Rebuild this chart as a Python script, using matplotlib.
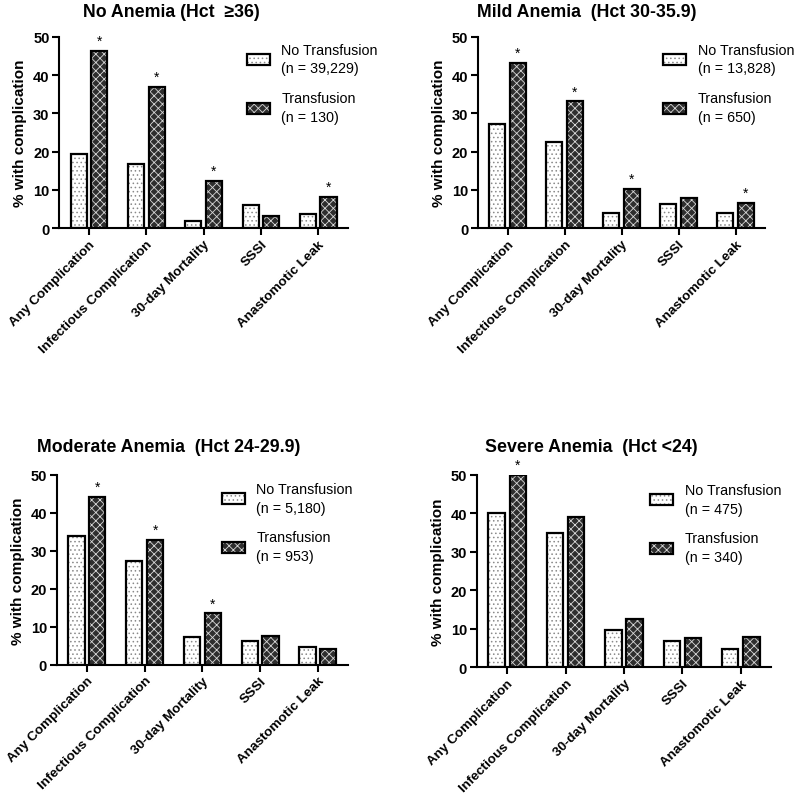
import matplotlib
matplotlib.use("Agg")
import matplotlib.pyplot as plt
from matplotlib.patches import Patch
import numpy as np

plt.rcParams["font.family"] = ["Liberation Sans", "DejaVu Sans"]
plt.rcParams["hatch.linewidth"] = 0.6

categories = ["Any Complication", "Infectious Complication", "30-day Mortality",
              "SSSI", "Anastomotic Leak"]

titles = ["No Anemia (Hct  \u226536)", "Mild Anemia  (Hct 30-35.9)",
          "Moderate Anemia  (Hct 24-29.9)", "Severe Anemia  (Hct <24)"]

n_no_tx = ["39,229", "13,828", "5,180", "475"]
n_tx = ["130", "650", "953", "340"]

no_tx = [
    [19.3, 16.7, 1.9, 6.0, 3.6],
    [27.2, 22.4, 4.0, 6.3, 4.0],
    [33.8, 27.3, 7.2, 6.2, 4.6],
    [40.2, 34.9, 9.7, 6.9, 4.6],
]
tx = [
    [46.2, 37.0, 12.3, 3.1, 8.2],
    [43.2, 33.1, 10.2, 8.0, 6.6],
    [44.3, 32.9, 13.5, 7.6, 4.1],
    [50.1, 39.1, 12.4, 7.6, 7.9],
]
# significance stars on the transfusion bar
stars = [
    [1, 1, 1, 0, 1],
    [1, 1, 1, 0, 1],
    [1, 1, 1, 0, 0],
    [1, 0, 0, 0, 0],
]

# [left, bottom, width, height] in figure fractions
positions = [
    [0.074, 0.715, 0.361, 0.238],
    [0.5975, 0.715, 0.359, 0.238],
    [0.071, 0.172, 0.364, 0.236],
    [0.596, 0.169, 0.368, 0.239],
]
title_pos = [(0.104, 0.985), (0.596, 0.985), (0.046, 0.444), (0.606, 0.444)]
legend_anchor = [(0.65, 0.97), (0.645, 0.97), (0.567, 0.965), (0.59, 0.96)]

fig = plt.figure(figsize=(8, 8.04), dpi=100)

w = 0.28
off = 0.18
nt_style = dict(facecolor="white", edgecolor="#8a8a8a", hatch="....", linewidth=0)
t_style = dict(facecolor="#2e2e2e", edgecolor="#d8d8d8", hatch="xxxx", linewidth=0)
outline = dict(fill=False, edgecolor="black", linewidth=1.6)

x = np.arange(len(categories))
for i in range(4):
    ax = fig.add_axes(positions[i])
    ax.bar(x - off, no_tx[i], w, **nt_style)
    ax.bar(x - off, no_tx[i], w, **outline)
    ax.bar(x + off, tx[i], w, **t_style)
    ax.bar(x + off, tx[i], w, **outline)
    for j in range(len(categories)):
        if stars[i][j]:
            ax.text(x[j] + off, tx[i][j] + 0.8, "*", ha="center", va="bottom",
                    fontsize=10)

    ax.set_xlim(-0.52, 4.52)
    ax.set_ylim(0, 50)
    ax.set_yticks([0, 10, 20, 30, 40, 50])
    ax.set_xticks(x)
    ax.set_xticklabels(categories, rotation=45, ha="right", rotation_mode="anchor",
                       fontsize=9.7, fontweight="bold")
    for lab in ax.get_yticklabels():
        lab.set_fontweight("bold")
        lab.set_fontsize(10.5)
    ax.spines["top"].set_visible(False)
    ax.spines["right"].set_visible(False)
    ax.spines["left"].set_linewidth(1.5)
    ax.spines["bottom"].set_linewidth(1.5)
    ax.tick_params(axis="both", width=1.5, length=5, pad=2)
    ax.set_ylabel("% with complication", fontsize=11, fontweight="bold", labelpad=4)

    h1 = (Patch(**nt_style), Patch(fill=False, edgecolor="black", linewidth=1.6))
    h2 = (Patch(**t_style), Patch(fill=False, edgecolor="black", linewidth=1.6))
    leg = ax.legend([h1, h2],
                    [f"No Transfusion\n(n = {n_no_tx[i]})", f"Transfusion\n(n = {n_tx[i]})"],
                    loc="upper left", bbox_to_anchor=legend_anchor[i], frameon=False,
                    fontsize=10.3, handlelength=1.6, handleheight=0.8,
                    labelspacing=1.1, handletextpad=0.8, borderaxespad=0,
                    borderpad=0)
    for t in leg.get_texts():
        t.set_linespacing(1.45)

    fig.text(title_pos[i][0], title_pos[i][1], titles[i], fontsize=12.8,
             fontweight="bold", ha="left", va="center")

fig.savefig("out.png", dpi=100)
